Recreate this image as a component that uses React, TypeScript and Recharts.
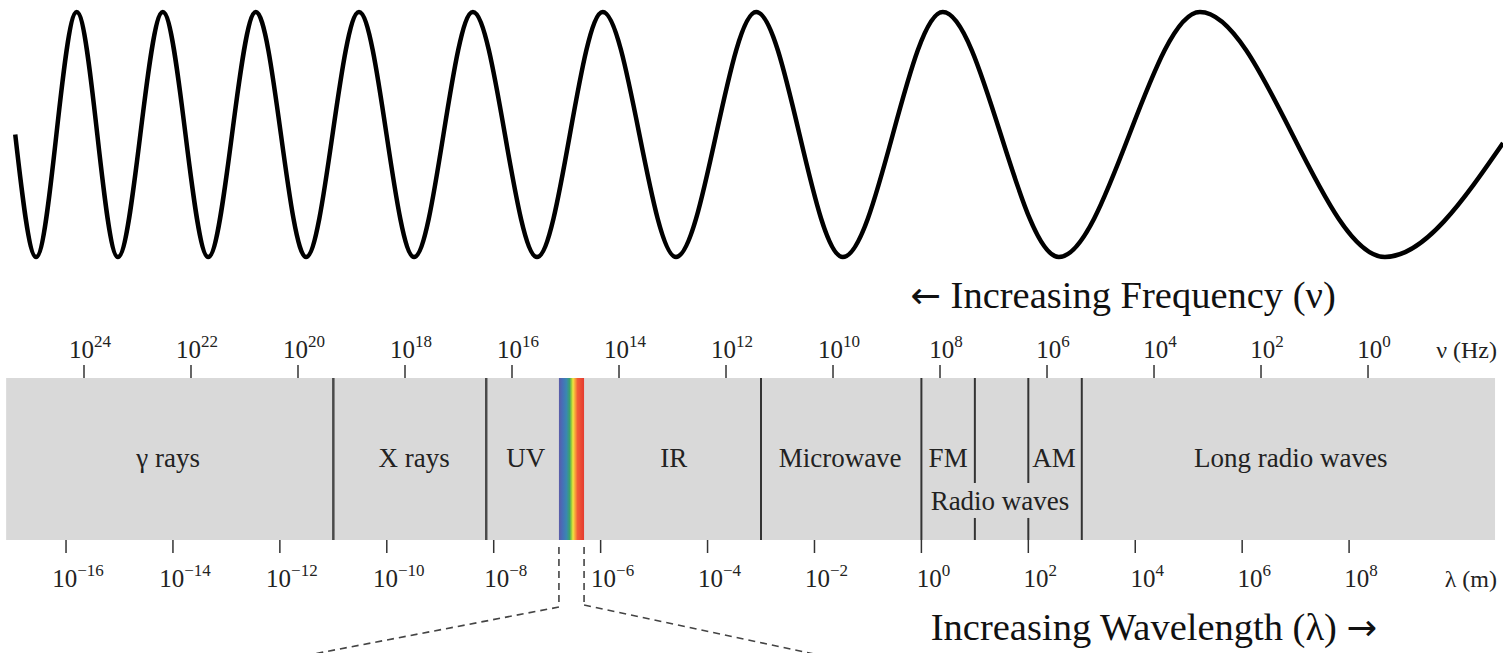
import React from 'react';
import {
  ComposedChart,
  LineChart,
  Line,
  Area,
  XAxis,
  YAxis,
  ReferenceArea,
  ReferenceLine,
  ReferenceDot,
} from 'recharts';

const W = 1503;
const H = 653;
const FONT = '"Liberation Serif", "Times New Roman", Times, serif';
const ARROW_FONT = '"DejaVu Sans", sans-serif';

// horizontal axis: log10 of wavelength (m); top axis: log10 of frequency (Hz), reversed
const LAM_DOMAIN = [-17.235, 10.879];
const NU_DOMAIN = [-2.523, 25.57];

// chirp wave: extrema (x in log10 λ units, y normalised amplitude)
const WAVE_X = [-16.95, -16.56, -15.8, -15.03, -14.19, -13.34, -12.45, -11.51, -10.52, -9.49, -8.39, -7.19, -5.96, -4.59, -3.09, -1.47, 0.4, 2.57, 5.21, 8.67, 10.879];
const WAVE_Y = [0, -1, 1, -1, 1, -1, 1, -1, 1, -1, 1, -1, 1, -1, 1, -1, 1, -1, 1, -1, -0.07];

// ticks
const FREQ_TICKS = [24, 22, 20, 18, 16, 14, 12, 10, 8, 6, 4, 2, 0];
const WAVELENGTH_TICKS = [-16, -14, -12, -10, -8, -6, -4, -2, 0, 2, 4, 6, 8];

// band (gray strip) extent and height
const BAND_X = [-17.12, 10.73];
const BAND_TOP = [1, 1];
const MAJOR_BOUNDARIES = [-11, -8.14];
const BOUNDARIES = [-3, 0, 3];
const SPLIT_BOUNDARIES = [1, 2];
const VISIBLE_RANGE = [-6.78, -6.31];

// region labels
const REGION_NAMES = ['γ rays', 'X rays', 'UV', 'IR', 'Microwave', 'FM', 'AM', 'Long radio waves', 'Radio waves'];
const REGION_X = [-14.09, -9.49, -7.4, -4.63, -1.52, 0.5, 2.48, 6.91, 1.47];
const REGION_Y = [0.45, 0.45, 0.45, 0.45, 0.45, 0.45, 0.45, 0.45, 0.185];

// spectrum colours across the visible strip
const SPECTRUM_STOPS = [0, 0.15, 0.3, 0.42, 0.5, 0.56, 0.64, 0.74, 1];
const SPECTRUM_COLORS = ['#5b5ba8', '#4670b8', '#3a88b0', '#3aa070', '#9ccc3c', '#f0e442', '#f7a63a', '#f25c38', '#e43b2f'];

// dashed zoom lines (x: log10 λ, y: band units)
const DASH_LEFT_X = [-6.78, -6.78, -11.47];
const DASH_LEFT_Y = [-0.043, -0.414, -0.71];
const DASH_RIGHT_X = [-6.31, -6.31, -1.92];
const DASH_RIGHT_Y = [-0.043, -0.401, -0.71];

const waveData = WAVE_X.map((x, i) => ({ x, y: WAVE_Y[i] }));
const bandData = BAND_X.map((lam, i) => ({ lam, top: BAND_TOP[i] }));

const expText = (v: number) => (v < 0 ? '\u2212' + Math.abs(v) : String(v));

const TopTick = (props: any) => {
  const { x, y, payload } = props;
  return (
    <text x={x + 6} y={y} textAnchor="middle" fontFamily={FONT} fill="#222">
      <tspan fontSize={25}>10</tspan>
      <tspan fontSize={17} dy={-11}>{expText(payload.value)}</tspan>
    </text>
  );
};

const BottomTick = (props: any) => {
  const { x, y, payload } = props;
  return (
    <text x={x + 12} y={y + 34} textAnchor="middle" fontFamily={FONT} fill="#222">
      <tspan fontSize={25}>10</tspan>
      <tspan fontSize={17} dy={-11}>{expText(payload.value)}</tspan>
    </text>
  );
};

type Part = { t: string; arrow?: boolean };

const textLabel = (parts: Part[], size: number, anchor: string = 'middle', fill = '#222') => ({
  content: (p: any) => {
    const vb = p.viewBox || {};
    const x = (vb.x ?? 0) + (vb.width ?? 0) / 2;
    const y = (vb.y ?? 0) + (vb.height ?? 0) / 2;
    return (
      <text x={x} y={y} textAnchor={anchor} fontSize={size} fontFamily={FONT} fill={fill}>
        {parts.map((pt, i) => (
          <tspan key={i} fontFamily={pt.arrow ? ARROW_FONT : FONT} fontSize={pt.arrow ? size * 0.95 : size}>
            {pt.t}
          </tspan>
        ))}
      </text>
    );
  },
});

const segs = (xs: number[], ys: number[]) =>
  xs.slice(1).map((_, i) => [
    { x: xs[i], y: ys[i] },
    { x: xs[i + 1], y: ys[i + 1] },
  ]);

export default function App() {
  const dashSegs = [...segs(DASH_LEFT_X, DASH_LEFT_Y), ...segs(DASH_RIGHT_X, DASH_RIGHT_Y)];
  return (
    <div style={{ position: 'absolute', left: 0, top: 0, width: W, height: H, background: '#fff' }}>
      <div style={{ position: 'absolute', left: 0, top: 0 }}>
        <LineChart width={W} height={275} data={waveData} margin={{ top: 12, right: 0, bottom: 18, left: 0 }}>
          <XAxis type="number" dataKey="x" domain={LAM_DOMAIN} hide />
          <YAxis type="number" domain={[-1, 1]} hide />
          <Line
            type="monotoneX"
            dataKey="y"
            stroke="#000"
            strokeWidth={4.5}
            dot={false}
            isAnimationActive={false}
          />
        </LineChart>
      </div>
      <div style={{ position: 'absolute', left: 0, top: 0 }}>
        <ComposedChart width={W} height={H} data={bandData} margin={{ top: 348, right: 0, bottom: 73, left: 0 }}>
          <defs>
            <linearGradient id="visibleSpectrum" x1="0" y1="0" x2="1" y2="0">
              {SPECTRUM_STOPS.map((s, i) => (
                <stop key={i} offset={s} stopColor={SPECTRUM_COLORS[i]} />
              ))}
            </linearGradient>
          </defs>
          <XAxis
            xAxisId="nu"
            orientation="top"
            type="number"
            dataKey="lam"
            domain={NU_DOMAIN}
            reversed
            allowDataOverflow
            ticks={FREQ_TICKS}
            interval={0}
            height={30}
            axisLine={false}
            tickSize={13}
            tickMargin={7}
            tickLine={{ stroke: '#333', strokeWidth: 1.5 }}
            tick={<TopTick />}
          />
          <XAxis
            xAxisId="lam"
            orientation="bottom"
            type="number"
            dataKey="lam"
            domain={LAM_DOMAIN}
            allowDataOverflow
            ticks={WAVELENGTH_TICKS}
            interval={0}
            height={40}
            axisLine={false}
            tickSize={13}
            tickMargin={0}
            tickLine={{ stroke: '#333', strokeWidth: 1.5 }}
            tick={<BottomTick />}
          />
          <YAxis type="number" domain={[0, 1]} hide />
          <Area
            xAxisId="lam"
            type="linear"
            dataKey="top"
            baseValue={0}
            fill="#d9d9d9"
            fillOpacity={1}
            stroke="none"
            dot={false}
            activeDot={false}
            isAnimationActive={false}
          />
          <ReferenceArea
            xAxisId="lam"
            x1={VISIBLE_RANGE[0]}
            x2={VISIBLE_RANGE[1]}
            y1={0}
            y2={1}
            fill="url(#visibleSpectrum)"
            fillOpacity={1}
            stroke="none"
            ifOverflow="visible"
          />
          {MAJOR_BOUNDARIES.map((b) => (
            <ReferenceLine key={'m' + b} xAxisId="lam" x={b} stroke="#4a4a4a" strokeWidth={2.5} />
          ))}
          {BOUNDARIES.map((b) => (
            <ReferenceLine key={'b' + b} xAxisId="lam" x={b} stroke="#333" strokeWidth={2} />
          ))}
          {SPLIT_BOUNDARIES.map((b) => (
            <ReferenceLine
              key={'s1' + b}
              xAxisId="lam"
              segment={[{ x: b, y: 1 }, { x: b, y: 0.352 }]}
              stroke="#333"
              strokeWidth={2}
              ifOverflow="visible"
            />
          ))}
          {SPLIT_BOUNDARIES.map((b) => (
            <ReferenceLine
              key={'s2' + b}
              xAxisId="lam"
              segment={[{ x: b, y: 0.136 }, { x: b, y: 0 }]}
              stroke="#333"
              strokeWidth={2}
              ifOverflow="visible"
            />
          ))}
          {dashSegs.map((s, i) => (
            <ReferenceLine
              key={'d' + i}
              xAxisId="lam"
              segment={s}
              stroke="#444"
              strokeWidth={1.6}
              strokeDasharray="7 5"
              ifOverflow="visible"
            />
          ))}
          {REGION_NAMES.map((name, i) => (
            <ReferenceDot
              key={'r' + i}
              xAxisId="lam"
              x={REGION_X[i]}
              y={REGION_Y[i]}
              r={0}
              fill="none"
              stroke="none"
              ifOverflow="visible"
              label={textLabel([{ t: name }], 27)}
            />
          ))}
          <ReferenceDot xAxisId="lam" x={10.767} y={1.123} r={0} fill="none" stroke="none" ifOverflow="visible" label={textLabel([{ t: 'ν (Hz)' }], 24, 'end')} />
          <ReferenceDot xAxisId="lam" x={10.767} y={-0.29} r={0} fill="none" stroke="none" ifOverflow="visible" label={textLabel([{ t: 'λ (m)' }], 24, 'end')} />
          <ReferenceDot
            xAxisId="lam"
            x={3.772}
            y={1.432}
            r={0}
            fill="none"
            stroke="none"
            ifOverflow="visible"
            label={textLabel([{ t: '←', arrow: true }, { t: ' Increasing Frequency (ν)' }], 38.5, 'middle', '#111')}
          />
          <ReferenceDot
            xAxisId="lam"
            x={4.351}
            y={-0.617}
            r={0}
            fill="none"
            stroke="none"
            ifOverflow="visible"
            label={textLabel([{ t: 'Increasing Wavelength (λ) ' }, { t: '→', arrow: true }], 38.5, 'middle', '#111')}
          />
        </ComposedChart>
      </div>
    </div>
  );
}
